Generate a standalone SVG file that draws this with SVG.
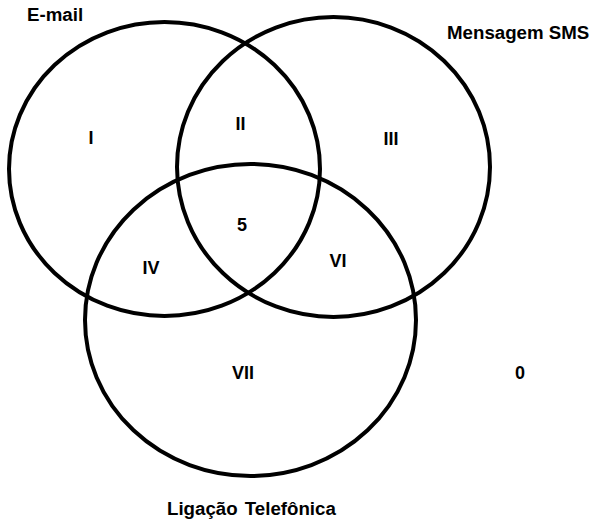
<svg xmlns="http://www.w3.org/2000/svg" width="591" height="521" viewBox="0 0 591 521">
<style>
.c{fill:none;stroke:#000;stroke-width:4}
.t{font-family:"Liberation Sans",Arial,sans-serif;font-weight:bold;font-size:18px;fill:#000}
.h{font-size:18.7px}
.m{text-anchor:middle}
</style>
<rect width="591" height="521" fill="#fff"/>
<g id="email">
<ellipse class="c" cx="164.5" cy="169" rx="155.5" ry="147"/>
<text class="t h" x="27" y="21">E-mail</text>
</g>
<g id="sms">
<ellipse class="c" cx="333.5" cy="167" rx="156.5" ry="150"/>
<text class="t h" x="447" y="38.5">Mensagem SMS</text>
</g>
<g id="ligacao">
<ellipse class="c" cx="250.5" cy="320" rx="165.5" ry="156"/>
<text class="t h" x="167" y="515" word-spacing="2">Ligação Telefônica</text>
</g>
<g id="regions">
<text class="t m" x="91" y="144">I</text>
<text class="t m" x="240.5" y="129.5">II</text>
<text class="t m" x="391" y="145">III</text>
<text class="t m" x="242" y="231">5</text>
<text class="t m" x="151" y="274">IV</text>
<text class="t m" x="338" y="267">VI</text>
<text class="t m" x="243" y="379">VII</text>
<text class="t m" x="520" y="379">0</text>
</g>
<g id="connectors"></g>
</svg>
